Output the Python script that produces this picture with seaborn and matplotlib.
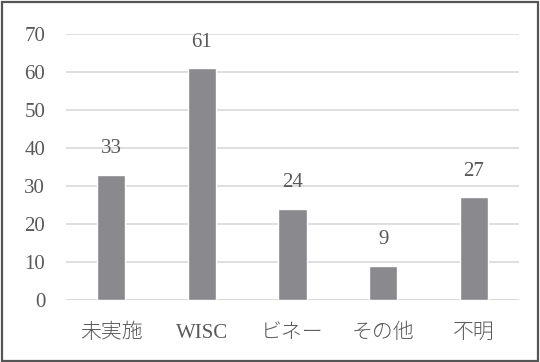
import matplotlib
matplotlib.use("Agg")
import matplotlib.pyplot as plt
import seaborn as sns
import pandas as pd
from matplotlib.patches import Rectangle

categories = ["未実施", "WISC", "ビネー", "その他", "不明"]
values = [33, 61, 24, 9, 27]
yticks = [0, 10, 20, 30, 40, 50, 60, 70]

sns.set_theme(style="white")
plt.rcParams['font.family'] = ['Liberation Serif', 'Noto Sans CJK JP', 'DejaVu Sans']

df = pd.DataFrame({"cat": categories, "val": values})

fig = plt.figure(figsize=(5.4, 3.62), dpi=100)
ax = fig.add_axes([66/540, 1-300/362, (519-66)/540, (300-34)/362])

text_color = "#595959"
sns.barplot(data=df, x="cat", y="val", ax=ax, color="#8a8a8e", width=0.31,
            saturation=1, zorder=3)

ax.set_ylim(0, 70)
ax.set_yticks(yticks)
ax.set_yticklabels([str(t) for t in yticks])
ax.set_xlabel("")
ax.set_ylabel("")
ax.yaxis.grid(True, color="#d9d9d9", lw=1.2, zorder=0)
ax.set_axisbelow(True)
for s in ax.spines.values():
    s.set_visible(False)
ax.tick_params(axis="y", length=0, pad=15, labelsize=15, labelcolor=text_color)
ax.tick_params(axis="x", length=0, pad=17, labelsize=15, labelcolor=text_color)
for lab in ax.get_xticklabels():
    lab.set_fontweight("light")
ax.axhline(0, color="#d9d9d9", lw=1.2, zorder=1)

for i, v in enumerate(values):
    ax.annotate(str(v), (i, v), xytext=(0, 12), textcoords="offset points",
                ha="center", va="bottom", fontsize=15, color=text_color)

fig.patches.append(Rectangle((0.004, 0.004), 0.992, 0.99, transform=fig.transFigure,
                             fill=False, edgecolor="#555555", lw=1.6))

fig.savefig("out.png", dpi=100)
